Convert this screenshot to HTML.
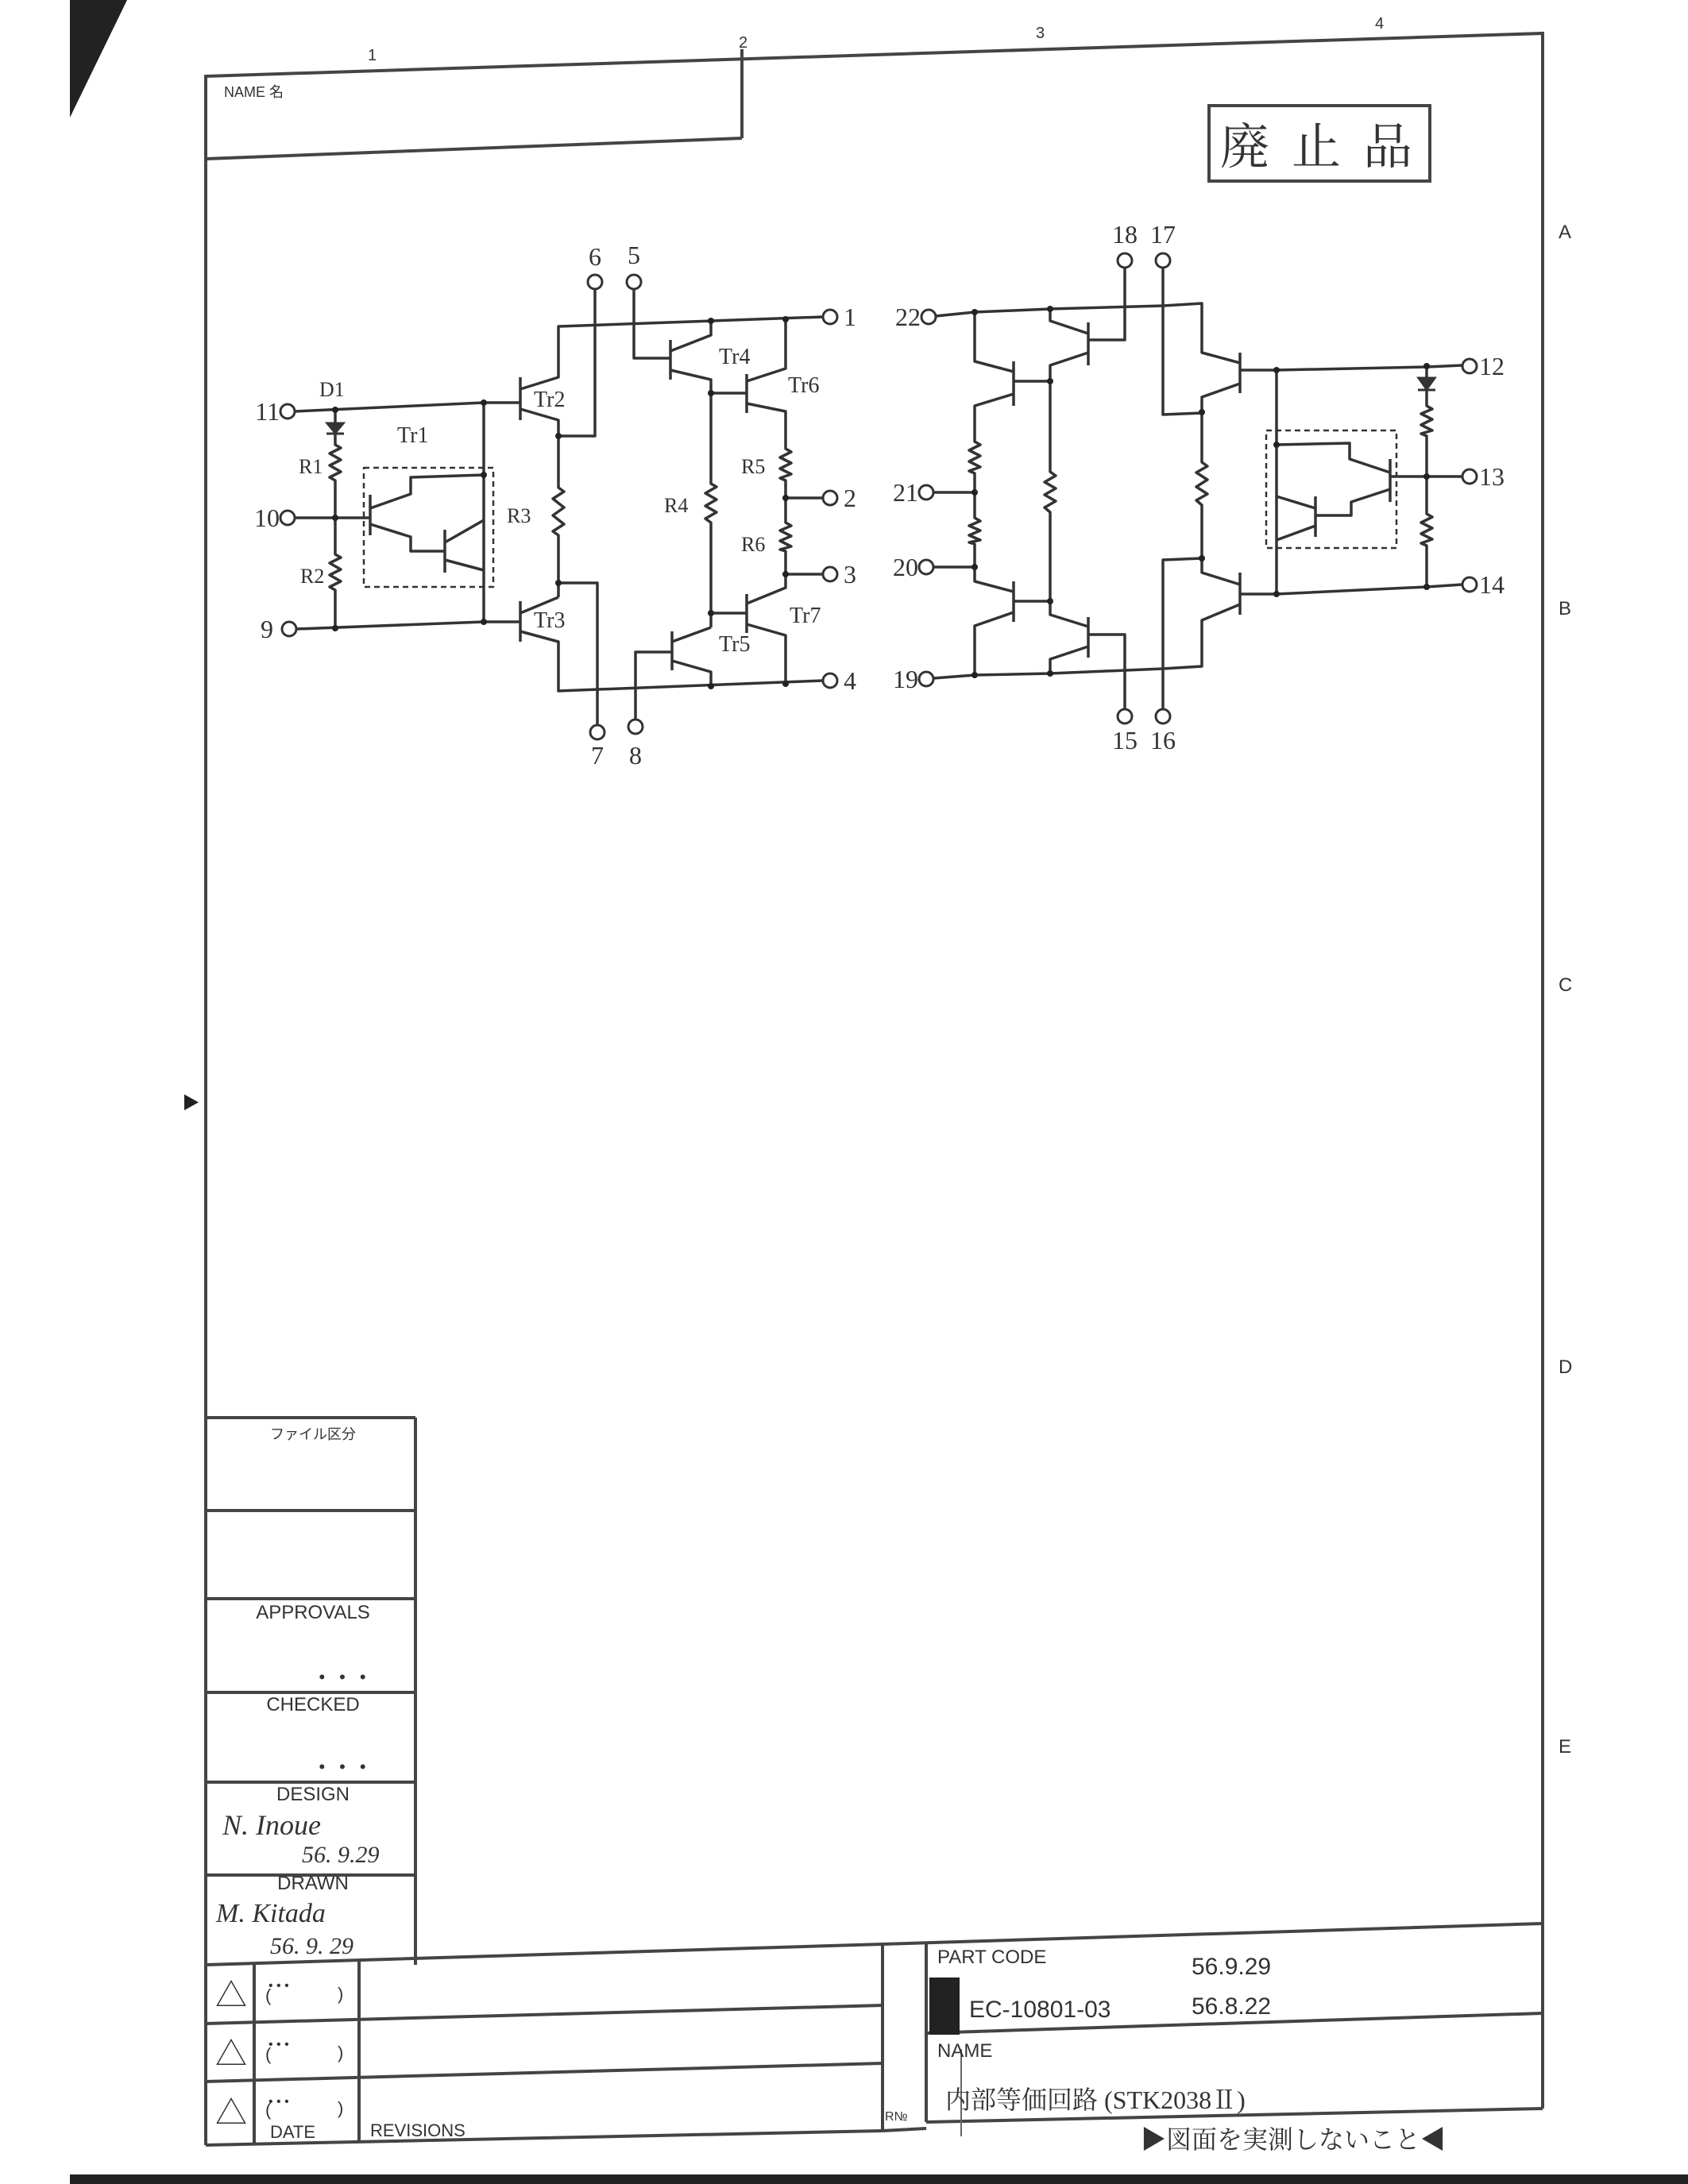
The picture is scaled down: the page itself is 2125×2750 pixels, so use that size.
<!DOCTYPE html>
<html><head><meta charset="utf-8"><style>
html,body{margin:0;padding:0;background:#fff;}
svg{display:block;}
text{font-family:"Liberation Serif","Noto Serif CJK SC",serif;fill:#333;}
.s{font-family:"Liberation Sans","Noto Sans CJK JP",sans-serif;}
</style></head><body>
<svg width="2125" height="2750" viewBox="0 0 2125 2750" xmlns="http://www.w3.org/2000/svg">
<rect width="2125" height="2750" fill="#fff"/>
<polygon points="88,0 160,0 88,148" fill="#222"/>
<rect x="88" y="2738" width="2037" height="12" fill="#222"/>
<polygon points="232,1378 250,1388 232,1398" fill="#222"/>

<g stroke="#444" stroke-width="4" fill="none">
<polyline points="259,2701 259,96 1942,42 1942,2655"/>
<line x1="934" y1="62" x2="934" y2="174"/>
<line x1="259" y1="200" x2="934" y2="174"/>
<rect x="1522" y="133" width="278" height="95"/>
<line x1="523" y1="1785" x2="523" y2="2474"/>
<line x1="259" y1="1785" x2="523" y2="1785"/>
<line x1="259" y1="1902" x2="523" y2="1902"/>
<line x1="259" y1="2013" x2="523" y2="2013"/>
<line x1="259" y1="2131" x2="523" y2="2131"/>
<line x1="259" y1="2244" x2="523" y2="2244"/>
<line x1="259" y1="2361" x2="523" y2="2361"/>
<polyline points="259,2474 1111,2448 1942,2422"/>
<line x1="259" y1="2548" x2="1111" y2="2525"/>
<line x1="259" y1="2621" x2="1111" y2="2598"/>
<line x1="259" y1="2701" x2="1111" y2="2683"/>
<line x1="320" y1="2472" x2="320" y2="2700"/>
<line x1="452" y1="2470" x2="452" y2="2698"/>
<line x1="1111" y1="2448" x2="1111" y2="2683"/>
<line x1="1166" y1="2447" x2="1166" y2="2672"/>
<line x1="1166" y1="2560" x2="1942" y2="2535"/>
<line x1="1111" y1="2683" x2="1166" y2="2680"/>
<line x1="1166" y1="2672" x2="1942" y2="2655"/>
</g>
<rect x="1170" y="2490" width="38" height="72" fill="#222"/>
<line x1="1210" y1="2580" x2="1210" y2="2690" stroke="#666" stroke-width="2"/>

<g font-size="20" class="s">
<text x="463" y="76" class="s">1</text><text x="930" y="60" class="s">2</text>
<text x="1304" y="48" class="s">3</text><text x="1731" y="36" class="s">4</text>
<text x="1962" y="300" font-size="24" class="s">A</text><text x="1962" y="774" font-size="24" class="s">B</text>
<text x="1962" y="1248" font-size="24" class="s">C</text><text x="1962" y="1729" font-size="24" class="s">D</text>
<text x="1962" y="2207" font-size="24" class="s">E</text>
<text x="282" y="122" font-size="18" class="s">NAME 名</text>
</g>
<text x="1536" y="206" font-size="62" font-family="'Noto Serif CJK SC',serif" letter-spacing="28">廃止品</text>

<g class="s" fill="#333">
<text x="394" y="1812" font-size="18" text-anchor="middle" class="s">ファイル区分</text>
<text x="394" y="2038" font-size="24" text-anchor="middle" class="s">APPROVALS</text>
<text x="394" y="2154" font-size="24" text-anchor="middle" class="s">CHECKED</text>
<text x="394" y="2267" font-size="24" text-anchor="middle" class="s">DESIGN</text>
<text x="394" y="2379" font-size="24" text-anchor="middle" class="s">DRAWN</text>
<text x="440" y="2119" font-size="22" text-anchor="middle" class="s" letter-spacing="18">•••</text>
<text x="440" y="2232" font-size="22" text-anchor="middle" class="s" letter-spacing="18">•••</text>
<text x="280" y="2310" font-size="36" font-style="italic" font-family="'Liberation Serif',serif">N. Inoue</text>
<text x="380" y="2345" font-size="30" font-style="italic" font-family="'Liberation Serif',serif">56. 9.29</text>
<text x="272" y="2420" font-size="34" font-style="italic" font-family="'Liberation Serif',serif">M. Kitada</text>
<text x="340" y="2460" font-size="30" font-style="italic" font-family="'Liberation Serif',serif">56. 9. 29</text>
<text x="291" y="2526" font-size="40" text-anchor="middle" class="s">△</text>
<text x="291" y="2600" font-size="40" text-anchor="middle" class="s">△</text>
<text x="291" y="2674" font-size="40" text-anchor="middle" class="s">△</text>
<text x="334" y="2520" font-size="22" class="s">(</text><text x="425" y="2518" font-size="22" class="s">)</text>
<text x="334" y="2594" font-size="22" class="s">(</text><text x="425" y="2592" font-size="22" class="s">)</text>
<text x="334" y="2664" font-size="22" class="s">(</text><text x="425" y="2662" font-size="22" class="s">)</text>
<text x="338" y="2505" font-size="16" class="s">•       •       •</text>
<text x="338" y="2579" font-size="16" class="s">•       •       •</text>
<text x="338" y="2651" font-size="16" class="s">•       •       •</text>
<text x="340" y="2692" font-size="22" class="s">DATE</text>
<text x="466" y="2690" font-size="22" class="s">REVISIONS</text>
<text x="1114" y="2670" font-size="16" class="s">R№</text>
<text x="1180" y="2472" font-size="24" class="s">PART CODE</text>
<text x="1500" y="2486" font-size="30" class="s">56.9.29</text>
<text x="1220" y="2540" font-size="30" class="s">EC-10801-03</text>
<text x="1500" y="2536" font-size="30" class="s">56.8.22</text>
<text x="1180" y="2590" font-size="24" class="s">NAME</text>
<text x="1190" y="2655" font-size="32" font-family="'Noto Sans CJK JP',sans-serif">内部等価回路 (STK2038Ⅱ)</text>
<text x="1436" y="2705" font-size="32" font-family="'Noto Sans CJK JP',sans-serif">▶図面を実測しないこと◀</text>
</g>

<g stroke="#333" stroke-width="3.5" fill="none" stroke-linejoin="round">
<g stroke-width="3">
<circle cx="362" cy="518" r="9"/><circle cx="362" cy="652" r="9"/><circle cx="364" cy="792" r="9"/>
<circle cx="749" cy="355" r="9"/><circle cx="798" cy="355" r="9"/><circle cx="752" cy="922" r="9"/><circle cx="800" cy="915" r="9"/>
<circle cx="1045" cy="399" r="9"/><circle cx="1045" cy="627" r="9"/><circle cx="1045" cy="723" r="9"/><circle cx="1045" cy="857" r="9"/>
<circle cx="1169" cy="399" r="9"/><circle cx="1166" cy="620" r="9"/><circle cx="1166" cy="714" r="9"/><circle cx="1166" cy="855" r="9"/>
<circle cx="1416" cy="328" r="9"/><circle cx="1464" cy="328" r="9"/><circle cx="1416" cy="902" r="9"/><circle cx="1464" cy="902" r="9"/>
<circle cx="1850" cy="461" r="9"/><circle cx="1850" cy="600" r="9"/><circle cx="1850" cy="736" r="9"/>
</g>
<line x1="371" y1="518" x2="609" y2="507"/>
<line x1="422" y1="516" x2="422" y2="533"/>
<polyline points="422,545 422,560 429,564 415,571 429,579 415,586 429,594 415,601 422,605 422,698 429,702 415,709 429,717 415,724 429,732 415,739 422,743 422,791"/>
<line x1="371" y1="652" x2="466" y2="652"/>
<line x1="373" y1="792" x2="609" y2="783"/>
<line x1="609" y1="507" x2="609" y2="783"/>
<rect x="458" y="589" width="163" height="150" stroke-dasharray="7 5" stroke-width="2.5"/>
<line x1="466" y1="623" x2="466" y2="674"/>
<polyline points="466,640 517,622 517,601 609,598"/>
<polyline points="466,660 517,676 517,694 560,694"/>
<line x1="560" y1="667" x2="560" y2="721"/>
<line x1="560" y1="683" x2="609" y2="655"/>
<line x1="560" y1="705" x2="609" y2="718"/>
<line x1="655" y1="475" x2="655" y2="529"/>
<line x1="609" y1="507" x2="655" y2="507"/>
<polyline points="655,490 703,475 703,411 1036,399"/>
<polyline points="655,515 703,529 703,614 710,619 696,628 710,639 696,649 710,660 696,669 703,674 703,734"/>
<polyline points="703,549 749,549 749,364"/>
<polyline points="703,734 752,734 752,913"/>
<line x1="655" y1="757" x2="655" y2="808"/>
<line x1="609" y1="783" x2="655" y2="783"/>
<line x1="655" y1="772" x2="703" y2="752"/><line x1="703" y1="752" x2="703" y2="734"/>
<polyline points="655,795 703,808 703,870 1036,857"/>
<polyline points="798,364 798,451 844,451"/>
<line x1="844" y1="428" x2="844" y2="478"/>
<polyline points="844,442 895,422 895,404"/>
<polyline points="844,466 895,478 895,609 902,613 888,621 902,629 888,637 902,645 888,653 895,658 895,790"/>
<line x1="940" y1="471" x2="940" y2="520"/>
<line x1="895" y1="495" x2="940" y2="495"/>
<polyline points="940,480 989,464 989,402"/>
<polyline points="940,508 989,518 989,565 996,569 982,576 996,583 982,590 996,597 982,602 989,605 989,658 996,662 982,668 996,675 982,681 996,688 982,692 989,694 989,740 940,760"/>
<line x1="989" y1="627" x2="1036" y2="627"/>
<line x1="989" y1="723" x2="1036" y2="723"/>
<line x1="940" y1="748" x2="940" y2="797"/>
<line x1="895" y1="772" x2="940" y2="772"/>
<polyline points="940,786 989,800 989,861"/>
<polyline points="800,906 800,821 846,821"/>
<line x1="846" y1="795" x2="846" y2="844"/>
<polyline points="846,808 895,790"/>
<polyline points="846,832 895,846 895,864"/>
<polyline points="1178,398 1227,393 1322,389 1464,385 1513,382 1513,444 1561,457"/>
<polyline points="1227,393 1227,455 1276,468"/>
<line x1="1276" y1="455" x2="1276" y2="511"/>
<line x1="1276" y1="480" x2="1322" y2="480"/>
<polyline points="1276,496 1227,511 1227,556 1234,560 1220,567 1234,574 1220,581 1234,588 1220,593 1227,596 1227,652 1234,656 1220,662 1234,668 1220,674 1234,680 1220,683 1227,685 1227,732 1276,745"/>
<line x1="1175" y1="620" x2="1227" y2="620"/>
<line x1="1175" y1="714" x2="1227" y2="714"/>
<polyline points="1322,389 1322,404 1370,420"/>
<line x1="1370" y1="406" x2="1370" y2="460"/>
<polyline points="1370,428 1416,428 1416,337"/>
<polyline points="1370,444 1322,460 1322,594 1329,599 1315,607 1329,615 1315,623 1329,631 1315,639 1322,645 1322,774 1370,789"/>
<line x1="1276" y1="732" x2="1276" y2="783"/>
<line x1="1276" y1="757" x2="1322" y2="757"/>
<polyline points="1276,771 1227,788 1227,850"/>
<polyline points="1175,854 1227,850 1322,848 1464,842 1513,839 1513,781 1561,761"/>
<line x1="1370" y1="777" x2="1370" y2="828"/>
<polyline points="1370,799 1416,799 1416,893"/>
<polyline points="1370,814 1322,830 1322,848"/>
<polyline points="1464,337 1464,522 1513,520"/>
<polyline points="1464,893 1464,705 1513,703"/>
<line x1="1561" y1="444" x2="1561" y2="495"/>
<polyline points="1561,483 1513,500 1513,582 1520,587 1506,595 1520,604 1506,613 1520,622 1506,630 1513,636 1513,721 1561,736"/>
<line x1="1561" y1="721" x2="1561" y2="774"/>
<polyline points="1561,466 1607,466 1796,462 1841,460"/>
<polyline points="1561,748 1607,748 1796,739 1841,736"/>
<line x1="1607" y1="466" x2="1607" y2="748"/>
<polyline points="1796,461 1796,476"/>
<polyline points="1796,492 1796,511 1803,515 1789,521 1803,528 1789,535 1803,542 1789,546 1796,549 1796,647 1803,651 1789,658 1803,665 1789,672 1803,679 1789,684 1796,687 1796,739"/>
<line x1="1796" y1="600" x2="1841" y2="600"/>
<rect x="1594" y="542" width="164" height="148" stroke-dasharray="7 5" stroke-width="2.5"/>
<polyline points="1607,560 1699,558 1699,578 1750,595"/>
<line x1="1750" y1="578" x2="1750" y2="632"/>
<line x1="1750" y1="600" x2="1796" y2="600"/>
<polyline points="1750,616 1701,632 1701,649 1656,649"/>
<line x1="1656" y1="625" x2="1656" y2="676"/>
<line x1="1656" y1="640" x2="1607" y2="625"/>
<line x1="1656" y1="662" x2="1607" y2="680"/>
</g>
<g fill="#333" stroke="#333" stroke-width="3">
<polygon points="412,533 432,533 422,545"/><line x1="411" y1="546" x2="433" y2="546"/>
<polygon points="1786,476 1806,476 1796,490"/><line x1="1785" y1="491" x2="1807" y2="491"/>
</g>
<g fill="#222">
<circle cx="422" cy="516" r="4"/><circle cx="609" cy="507" r="4"/><circle cx="422" cy="652" r="4"/><circle cx="422" cy="791" r="4"/><circle cx="609" cy="783" r="4"/><circle cx="609" cy="598" r="4"/>
<circle cx="703" cy="549" r="4"/><circle cx="703" cy="734" r="4"/><circle cx="895" cy="404" r="4"/><circle cx="989" cy="402" r="4"/><circle cx="895" cy="495" r="4"/>
<circle cx="989" cy="627" r="4"/><circle cx="989" cy="723" r="4"/><circle cx="895" cy="772" r="4"/><circle cx="895" cy="864" r="4"/><circle cx="989" cy="861" r="4"/>
<circle cx="1227" cy="393" r="4"/><circle cx="1322" cy="389" r="4"/><circle cx="1322" cy="480" r="4"/><circle cx="1227" cy="620" r="4"/><circle cx="1227" cy="714" r="4"/>
<circle cx="1322" cy="757" r="4"/><circle cx="1227" cy="850" r="4"/><circle cx="1322" cy="848" r="4"/><circle cx="1513" cy="519" r="4"/><circle cx="1513" cy="703" r="4"/>
<circle cx="1607" cy="466" r="4"/><circle cx="1607" cy="748" r="4"/><circle cx="1796" cy="461" r="4"/><circle cx="1796" cy="600" r="4"/><circle cx="1796" cy="739" r="4"/><circle cx="1607" cy="560" r="4"/>
</g>
<g font-size="32">
<text x="352" y="529" text-anchor="end">11</text><text x="352" y="663" text-anchor="end">10</text><text x="344" y="803" text-anchor="end">9</text>
<text x="402" y="499" font-size="26">D1</text><text x="500" y="557" font-size="28">Tr1</text>
<text x="376" y="596" font-size="26">R1</text><text x="378" y="734" font-size="26">R2</text>
<text x="749" y="334" text-anchor="middle">6</text><text x="798" y="332" text-anchor="middle">5</text>
<text x="752" y="962" text-anchor="middle">7</text><text x="800" y="962" text-anchor="middle">8</text>
<text x="672" y="512" font-size="28">Tr2</text><text x="672" y="790" font-size="28">Tr3</text>
<text x="905" y="458" font-size="28">Tr4</text><text x="992" y="494" font-size="28">Tr6</text>
<text x="905" y="820" font-size="28">Tr5</text><text x="994" y="784" font-size="28">Tr7</text>
<text x="638" y="658" font-size="26">R3</text><text x="836" y="645" font-size="26">R4</text>
<text x="933" y="596" font-size="26">R5</text><text x="933" y="694" font-size="26">R6</text>
<text x="1062" y="410">1</text><text x="1062" y="638">2</text><text x="1062" y="734">3</text><text x="1062" y="868">4</text>
<text x="1159" y="410" text-anchor="end">22</text><text x="1156" y="631" text-anchor="end">21</text>
<text x="1156" y="725" text-anchor="end">20</text><text x="1156" y="866" text-anchor="end">19</text>
<text x="1416" y="306" text-anchor="middle">18</text><text x="1464" y="306" text-anchor="middle">17</text>
<text x="1416" y="943" text-anchor="middle">15</text><text x="1464" y="943" text-anchor="middle">16</text>
<text x="1862" y="472">12</text><text x="1862" y="611">13</text><text x="1862" y="747">14</text>
</g>
</svg>
</body></html>
